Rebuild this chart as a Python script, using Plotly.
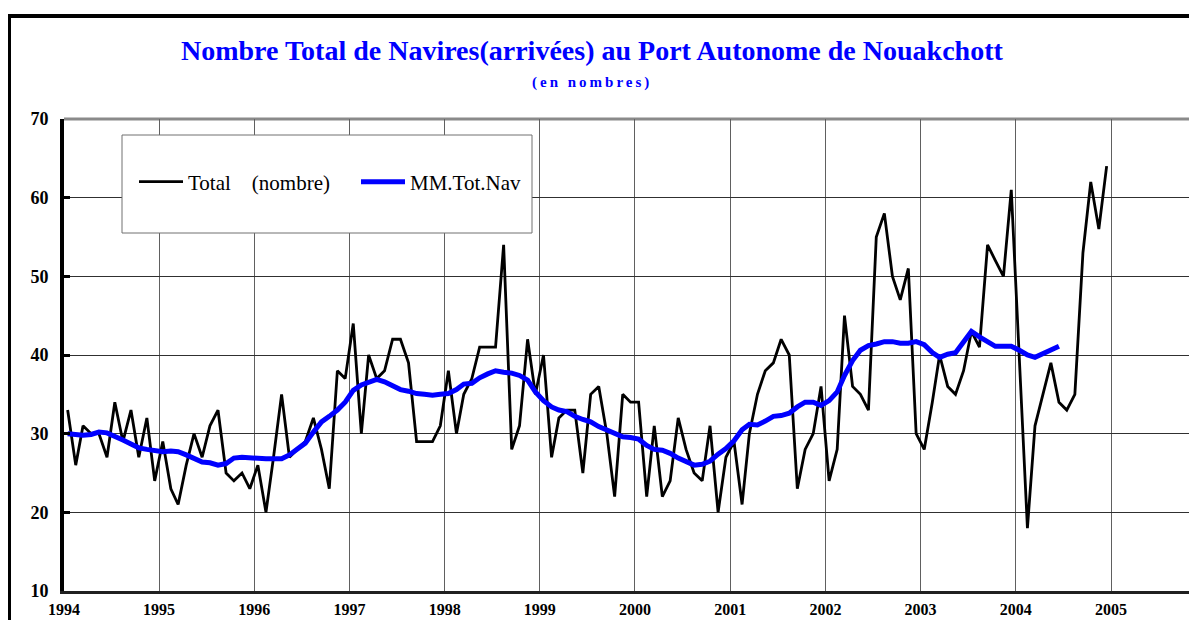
import plotly.graph_objects as go
import pandas as pd

# Monthly number of ship arrivals (Jan 1994 - Dec 2004)
total = [
    33, 26, 31, 30, 30, 27, 34, 29, 33, 27, 32, 24,   # 1994
    29, 23, 21, 26, 30, 27, 31, 33, 25, 24, 25, 23,   # 1995
    26, 20, 27, 35, 27, 28, 29, 32, 28, 23, 38, 37,   # 1996
    44, 30, 40, 37, 38, 42, 42, 39, 29, 29, 29, 31,   # 1997
    38, 30, 35, 37, 41, 41, 41, 54, 28, 31, 42, 35,   # 1998
    40, 27, 32, 33, 33, 25, 35, 36, 30, 22, 35, 34,   # 1999
    34, 22, 31, 22, 24, 32, 28, 25, 24, 31, 20, 27,   # 2000
    29, 21, 30, 35, 38, 39, 42, 40, 23, 28, 30, 36,   # 2001
    24, 28, 45, 36, 35, 33, 55, 58, 50, 47, 51, 30,   # 2002
    28, 34, 40, 36, 35, 38, 43, 41, 54, 52, 50, 61,   # 2003
    40, 18, 31, 35, 39, 34, 33, 35, 53, 62, 56, 64,   # 2004
]

# Moving average (Jan 1994 - Jun 2004)
mm_tot_nav = [
    30.0, 29.9, 29.8, 29.9, 30.2, 30.1, 29.7, 29.2, 28.7, 28.2, 28.0, 27.8,
    27.7, 27.8, 27.7, 27.3, 26.8, 26.4, 26.3, 26.0, 26.2, 26.9, 27.0, 26.9,
    26.8, 26.8, 26.8, 26.8, 27.3, 28.0, 28.8, 30.2, 31.5, 32.2, 33.0, 34.0,
    35.5, 36.2, 36.6, 36.9, 36.6, 36.0, 35.6, 35.4, 35.1, 35.0, 34.9, 35.0,
    35.1, 35.6, 36.3, 36.4, 37.1, 37.6, 38.0, 37.8, 37.7, 37.4, 36.8, 35.3,
    34.2, 33.4, 33.0, 32.8, 32.2, 31.8, 31.5, 30.9, 30.5, 30.1, 29.6, 29.5,
    29.3, 28.5, 28.0, 27.9, 27.5, 26.9, 26.4, 26.0, 26.1, 26.5, 27.4, 28.1,
    29.1, 30.5, 31.2, 31.1, 31.6, 32.2, 32.3, 32.6, 33.4, 34.0, 34.0, 33.6,
    34.2, 35.3, 37.4, 39.3, 40.6, 41.2, 41.4, 41.7, 41.7, 41.5, 41.5, 41.7,
    41.3, 40.3, 39.7, 40.1, 40.3, 41.7, 43.0, 42.3, 41.6, 41.1, 41.1, 41.1,
    40.6, 40.0, 39.7, 40.2, 40.7, 41.1,
]

months = pd.date_range("1994-01-01", periods=len(total), freq="MS") + pd.Timedelta(days=14)

title_text = "Nombre Total de Navires(arrivées) au Port Autonome de Nouakchott"
subtitle_text = "(en nombres)"
name_total = "Total\u00a0\u00a0\u00a0\u00a0(nombre)"
name_mm = "MM.Tot.Nav"

FONT = "Liberation Serif"
OFF = 8  # page body margin
W, H = 1197 - 2 * OFF, 628 - 2 * OFF
L = 64 - OFF
T = 119 - OFF
B = H - (591 - OFF)
R = 0
pw, ph = W - L - R, H - T - B


def px(x):  # page pixel x -> paper
    return (x - OFF - L) / pw


def py(y):  # page pixel y -> paper
    return (H - B - (y - OFF)) / ph


fig = go.Figure()
fig.add_trace(go.Scatter(
    x=months, y=total, mode="lines", name=name_total,
    line=dict(color="black", width=2.8), legend="legend",
))
fig.add_trace(go.Scatter(
    x=months[:len(mm_tot_nav)], y=mm_tot_nav, mode="lines", name=name_mm,
    line=dict(color="#0000FF", width=5), legend="legend2",
))

fig.update_layout(
    width=W, height=H,
    margin=dict(l=L, r=R, t=T, b=B, autoexpand=False),
    paper_bgcolor="white", plot_bgcolor="white",
    font=dict(family=FONT, color="black"),
    xaxis=dict(
        type="date", range=["1994-01-01", "2005-10-27"],
        tick0="1994-01-01", dtick="M12", tickformat="%Y",
        showgrid=True, gridcolor="#606060", gridwidth=1,
        showline=True, linecolor="#202020", linewidth=3,
        ticks="", ticklabelstandoff=2, automargin=False,
        tickfont=dict(family=FONT, size=16, color="black", weight="bold"),
        zeroline=False,
    ),
    yaxis=dict(
        range=[10, 70], dtick=10, tick0=10,
        showgrid=True, gridcolor="#303030", gridwidth=1,
        showline=True, linecolor="black", linewidth=4,
        ticks="inside", ticklen=6, tickwidth=3, tickcolor="black",
        ticklabelstandoff=8, automargin=False,
        tickfont=dict(family=FONT, size=18, color="black", weight="bold"),
        zeroline=False,
    ),
    legend=dict(
        x=px(134), y=py(182), xanchor="left", yanchor="middle",
        bgcolor="rgba(0,0,0,0)", borderwidth=0, itemwidth=44,
        font=dict(family=FONT, size=21, color="black"),
    ),
    legend2=dict(
        x=px(356), y=py(182), xanchor="left", yanchor="middle",
        bgcolor="rgba(0,0,0,0)", borderwidth=0, itemwidth=44,
        font=dict(family=FONT, size=21, color="black"),
    ),
    showlegend=True,
)

# legend frame
fig.add_shape(type="rect", xref="paper", yref="paper",
              x0=px(122), x1=px(532), y0=py(233), y1=py(135),
              fillcolor="white", line=dict(color="#707070", width=1), layer="above")
# top plot border (gray)
fig.add_shape(type="line", xref="paper", yref="paper",
              x0=0, x1=1.2, y0=1, y1=1,
              line=dict(color="#8a8a8a", width=3), layer="below")
# outer chart frame
fig.add_shape(type="rect", xref="paper", yref="paper",
              x0=px(9), x1=px(1260), y0=py(700), y1=py(16),
              line=dict(color="black", width=4), fillcolor="rgba(0,0,0,0)", layer="above")

fig.add_annotation(
    text="<b>" + title_text + "</b>", xref="paper", yref="paper",
    x=px(592), y=py(50), xanchor="center", yanchor="middle", showarrow=False,
    font=dict(family=FONT, size=28, color="#0000FF"),
)
fig.add_annotation(
    text='<b><span style="letter-spacing:3px">' + subtitle_text + "</span></b>",
    xref="paper", yref="paper",
    x=px(592), y=py(82), xanchor="center", yanchor="middle", showarrow=False,
    font=dict(family=FONT, size=15, color="#0000FF"),
)

fig.write_html("out.html")
